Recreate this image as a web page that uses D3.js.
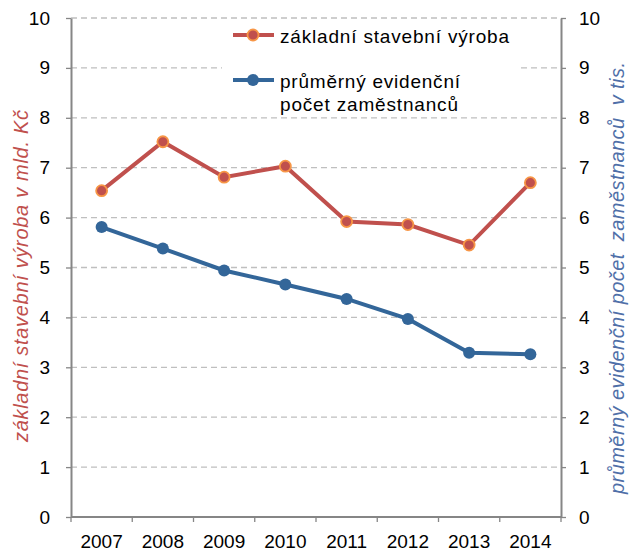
<!DOCTYPE html>
<html>
<head>
<meta charset="utf-8">
<script src="https://cdn.jsdelivr.net/npm/d3@7"></script>
<style>
  body { margin: 0; background: #fff; }
  text { font-family: "Liberation Sans", Arial, sans-serif; }
</style>
</head>
<body>
<svg id="chart" width="632" height="551"></svg>
<script>
const years = ['2007', '2008', '2009', '2010', '2011', '2012', '2013', '2014'];
const vyroba = [6.54, 7.52, 6.81, 7.03, 5.92, 5.86, 5.45, 6.70];
const zamestnanci = [5.81, 5.38, 4.94, 4.66, 4.37, 3.97, 3.29, 3.26];
const yTicks = [0, 1, 2, 3, 4, 5, 6, 7, 8, 9, 10];

const svg = d3.select('#chart');
const mLeft = 71, mRight = 561, mTop = 18, mBottom = 517;

const x = d3.scaleBand().domain(years).range([mLeft, mRight]);
const yL = d3.scaleLinear().domain([0, 10]).range([mBottom, mTop]);
const yR = d3.scaleLinear().domain([0, 10]).range([mBottom, mTop]);

// mrizka
svg.append('g')
  .selectAll('line')
  .data(yTicks.filter(d => d > 0))
  .enter()
  .append('line')
  .attr('x1', mLeft).attr('x2', mRight)
  .attr('y1', d => yL(d)).attr('y2', d => yL(d))
  .attr('stroke', '#bfbfbf')
  .attr('stroke-width', 1.3)
  .attr('stroke-dasharray', '6,4');

// osy
const styleAxis = g => {
  g.select('.domain').attr('stroke', '#868686').attr('stroke-width', 2);
  g.selectAll('.tick line').attr('stroke', '#868686').attr('stroke-width', 1.3);
  g.selectAll('.tick text').attr('fill', '#000').style('font-size', '19px')
    .style('font-family', '"Liberation Sans", Arial, sans-serif');
};

svg.append('g')
  .attr('transform', `translate(${mLeft},0)`)
  .call(d3.axisLeft(yL).tickValues(yTicks).tickSize(5).tickSizeOuter(0).tickPadding(16))
  .call(styleAxis);

svg.append('g')
  .attr('transform', `translate(${mRight},0)`)
  .call(d3.axisRight(yR).tickValues(yTicks).tickSize(5).tickSizeOuter(0).tickPadding(13))
  .call(styleAxis);

const xAxis = svg.append('g')
  .attr('transform', `translate(0,${mBottom})`)
  .call(d3.axisBottom(x).tickSize(0).tickPadding(18))
  .call(styleAxis);
xAxis.select('.domain').attr('d', `M${mLeft},0H${mRight}`);

// tick marks mezi kategoriemi
svg.append('g')
  .selectAll('line')
  .data(years.concat(['end']))
  .enter()
  .append('line')
  .attr('x1', (d, i) => mLeft + i * x.step())
  .attr('x2', (d, i) => mLeft + i * x.step())
  .attr('y1', mBottom).attr('y2', mBottom + 5)
  .attr('stroke', '#868686').attr('stroke-width', 1.3);

// legenda (bily podklad)
svg.append('rect')
  .attr('x', 222).attr('y', 22).attr('width', 298).attr('height', 91)
  .attr('fill', '#fff');

const lineL = d3.line().x((d, i) => x(years[i]) + x.bandwidth() / 2).y(d => yL(d));
const lineR = d3.line().x((d, i) => x(years[i]) + x.bandwidth() / 2).y(d => yR(d));

svg.append('path')
  .datum(vyroba)
  .attr('d', lineL)
  .attr('fill', 'none')
  .attr('stroke', '#c0504d')
  .attr('stroke-width', 4);

svg.append('path')
  .datum(zamestnanci)
  .attr('d', lineR)
  .attr('fill', 'none')
  .attr('stroke', '#336699')
  .attr('stroke-width', 4);

svg.append('g')
  .selectAll('circle')
  .data(vyroba)
  .enter()
  .append('circle')
  .attr('cx', (d, i) => x(years[i]) + x.bandwidth() / 2)
  .attr('cy', d => yL(d))
  .attr('r', 5.5)
  .attr('fill', '#c0504d')
  .attr('stroke', '#f79646')
  .attr('stroke-width', 1.8);

svg.append('g')
  .selectAll('circle')
  .data(zamestnanci)
  .enter()
  .append('circle')
  .attr('cx', (d, i) => x(years[i]) + x.bandwidth() / 2)
  .attr('cy', d => yR(d))
  .attr('r', 6)
  .attr('fill', '#336699');

// legenda
const leg = svg.append('g');
leg.append('line').attr('x1', 233).attr('x2', 274).attr('y1', 35).attr('y2', 35)
  .attr('stroke', '#c0504d').attr('stroke-width', 4);
leg.append('circle').attr('cx', 253).attr('cy', 35).attr('r', 5.5)
  .attr('fill', '#c0504d').attr('stroke', '#f79646').attr('stroke-width', 1.8);
leg.append('text').attr('x', 280).attr('y', 43).style('font-size', '19px')
  .attr('textLength', 229).attr('lengthAdjust', 'spacing')
  .text('základní stavební výroba');

leg.append('line').attr('x1', 233).attr('x2', 274).attr('y1', 80).attr('y2', 80)
  .attr('stroke', '#336699').attr('stroke-width', 4);
leg.append('circle').attr('cx', 253).attr('cy', 80).attr('r', 6).attr('fill', '#336699');
leg.append('text').attr('x', 280).attr('y', 88).style('font-size', '19px')
  .attr('textLength', 180).attr('lengthAdjust', 'spacing')
  .text('průměrný evidenční');
leg.append('text').attr('x', 280).attr('y', 111).style('font-size', '19px')
  .attr('textLength', 178).attr('lengthAdjust', 'spacing')
  .text('počet zaměstnanců');

// popisky os
svg.append('text')
  .attr('transform', 'translate(28,276) rotate(-90)')
  .attr('text-anchor', 'middle')
  .style('font-size', '20px').style('font-style', 'italic')
  .attr('fill', '#c0504d')
  .attr('textLength', 332).attr('lengthAdjust', 'spacing')
  .text('základní stavební výroba v mld. Kč');

svg.append('text')
  .attr('transform', 'translate(624,278) rotate(-90)')
  .attr('text-anchor', 'middle')
  .style('font-size', '20px').style('font-style', 'italic')
  .attr('fill', '#4f6fa8')
  .style('white-space', 'pre')
  .attr('textLength', 432).attr('lengthAdjust', 'spacing')
  .text('průměrný evidenční počet  zaměstnanců  v tis.');
</script>
</body>
</html>
